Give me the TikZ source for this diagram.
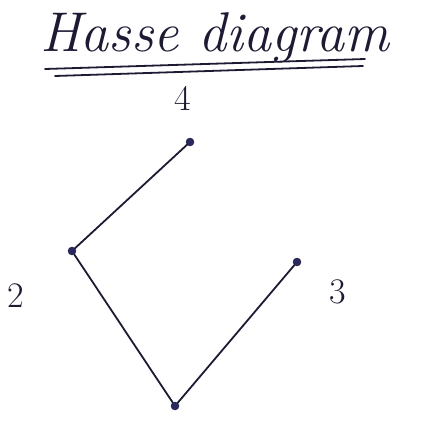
\documentclass[tikz,border=0pt]{standalone}
\usepackage{xcolor}
\usepackage{tikz}
\usetikzlibrary{positioning}
\definecolor{Ink}{HTML}{1C1B33}
\definecolor{Dot}{HTML}{2A2860}

\begin{document}
\begin{tikzpicture}[
  x=1pt, y=-1pt,
  elem/.style={circle, fill=Dot, draw=Ink, inner sep=0pt, minimum size=8pt},
  edge/.style={draw=Ink, line width=1.8pt, line cap=round},
  lbl/.style={text=Ink, font=\fontsize{36}{40}\selectfont},
  title/.style={text=Ink, font=\itshape\fontsize{56}{62}\selectfont, anchor=base}
]
\useasboundingbox (0,0) rectangle (421,428);
\node[title] (head) at (215,52) {Hasse diagram};
\draw[edge] (45,69) -- (365,59);
\draw[edge] (55,76) -- (363,66);

\node[elem] (top) at (190,142) {};
\node[elem] (two) at (72,251) {};
\node[elem] (three) at (297,262) {};
\node[elem] (bot) at (175,406) {};
\node[lbl] (l4) at (183,98) {4};
\node[lbl] (l2) at (16,296) {2};
\node[lbl] (l3) at (338,292) {3};

\draw[edge] (two) -- (top);
\draw[edge] (two) -- (bot);
\draw[edge] (bot) -- (three);
\end{tikzpicture}
\end{document}
